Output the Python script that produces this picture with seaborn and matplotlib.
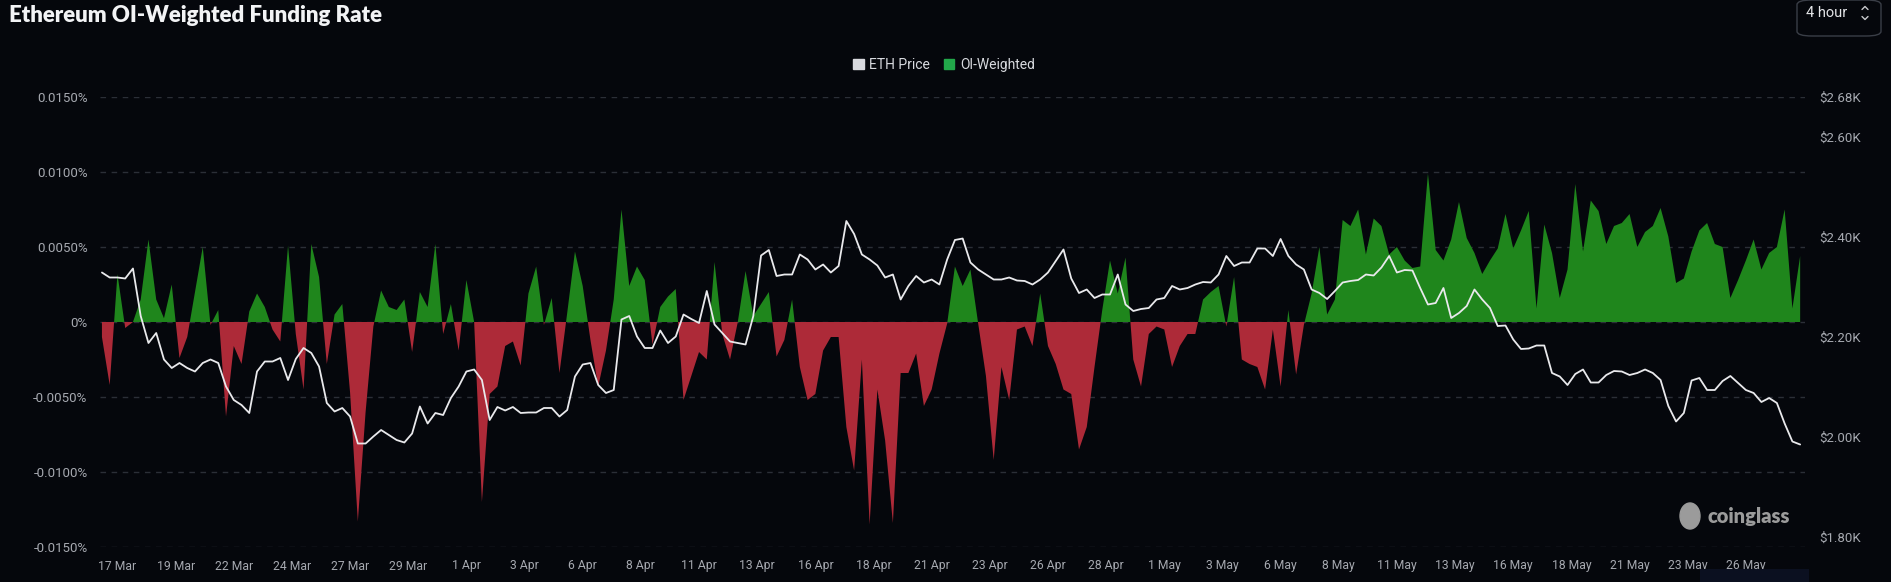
import numpy as np
import pandas as pd
import matplotlib
matplotlib.use("Agg")
import matplotlib.pyplot as plt
from matplotlib.patches import Patch, FancyBboxPatch, Rectangle, Ellipse
from matplotlib.lines import Line2D
import seaborn as sns

# 8-hour samples, first one at 16 Mar 08:00
start = "2025-03-16 08:00"

# OI-weighted funding rate, in units of 0.001 %
funding = [
    -1.0, -4.2, 3.2, -0.4, 0.0, 1.5, 5.5, 1.5, 0.25, 2.5,
    -2.4, -1.0, 2.0, 5.0, -0.2, 0.8, -6.3, -1.6, -2.8, 0.7,
    1.9, 1.0, -0.5, -1.3, 5.1, -0.8, -4.5, 5.2, 3.0, -2.8,
    0.5, 1.2, -4.7, -13.3, -6.0, -0.3, 2.1, 1.0, 0.8, 1.5,
    -2.0, 2.0, 1.0, 5.2, -0.8, 1.2, -1.9, 2.8, 0.0, -12.0,
    -4.8, -4.3, -1.6, -1.3, -2.9, 1.9, 3.7, -0.2, 1.6, -3.4,
    0.6, 4.7, 2.4, -1.2, -4.3, -1.9, 1.5, 7.5, 2.4, 3.7,
    2.8, -1.5, 1.0, 1.7, 2.2, -5.2, -3.6, -2.0, -2.5, 4.0,
    -0.8, -2.5, 0.0, 3.4, 0.4, 1.2, 2.0, -2.3, -1.2, 1.5,
    -3.0, -5.2, -4.8, -1.9, -1.0, -1.0, -7.0, -9.9, -2.5, -13.5,
    -4.5, -7.9, -13.4, -3.4, -3.4, -2.1, -5.6, -4.5, -2.1, -0.1,
    3.7, 2.4, 3.5, -0.1, -3.6, -9.2, -3.0, -5.2, -0.5, -0.3,
    -1.6, 1.9, -1.6, -2.8, -4.5, -4.8, -8.5, -7.0, -3.0, 0.8,
    4.1, 1.9, 4.3, -2.5, -4.3, -0.8, -0.3, -0.5, -3.0, -1.6,
    -0.8, -0.8, 1.5, 2.0, 2.4, -0.3, 3.0, -2.5, -2.8, -3.0,
    -4.5, -0.5, -4.3, 0.8, -3.5, -0.2, 1.9, 5.0, 0.5, 1.5,
    6.8, 6.4, 7.5, 4.5, 6.9, 6.4, 4.5, 5.0, 4.1, 3.6,
    3.7, 9.9, 4.8, 4.1, 5.5, 8.0, 5.6, 4.6, 3.2, 4.1,
    4.9, 7.2, 4.9, 6.1, 7.4, 0.9, 6.5, 4.6, 1.6, 3.5,
    9.2, 4.7, 8.1, 7.4, 5.2, 6.4, 6.6, 7.2, 5.0, 6.0,
    6.4, 7.6, 5.7, 2.6, 2.9, 4.7, 6.1, 6.6, 5.2, 5.0,
    1.6, 2.8, 4.1, 5.5, 3.5, 4.6, 5.0, 7.5, 0.9, 4.4,
]

# ETH price in USD
eth_price = [
    2329, 2319, 2319, 2317, 2337, 2242, 2188, 2208, 2155, 2138,
    2148, 2138, 2131, 2148, 2155, 2148, 2101, 2074, 2064, 2048,
    2131, 2151, 2151, 2158, 2114, 2156, 2178, 2168, 2141, 2068,
    2051, 2058, 2041, 1987, 1987, 2001, 2014, 2004, 1994, 1989,
    2007, 2061, 2027, 2048, 2044, 2078, 2101, 2131, 2135, 2114,
    2034, 2060, 2053, 2060, 2048, 2049, 2049, 2058, 2058, 2041,
    2054, 2121, 2145, 2148, 2104, 2088, 2094, 2235, 2242, 2201,
    2178, 2178, 2213, 2188, 2201, 2245, 2236, 2228, 2292, 2225,
    2208, 2191, 2188, 2185, 2242, 2363, 2374, 2322, 2325, 2325,
    2365, 2355, 2335, 2345, 2329, 2342, 2432, 2406, 2365, 2355,
    2343, 2319, 2325, 2275, 2302, 2322, 2309, 2315, 2305, 2355,
    2394, 2397, 2349, 2335, 2325, 2315, 2315, 2319, 2313, 2312,
    2305, 2315, 2329, 2352, 2375, 2317, 2288, 2295, 2278, 2285,
    2285, 2325, 2265, 2252, 2256, 2258, 2275, 2278, 2302, 2295,
    2298, 2305, 2310, 2309, 2325, 2362, 2342, 2349, 2349, 2377,
    2377, 2362, 2396, 2362, 2345, 2335, 2295, 2288, 2276, 2292,
    2309, 2312, 2314, 2325, 2323, 2339, 2362, 2329, 2334, 2333,
    2298, 2265, 2268, 2298, 2238, 2248, 2262, 2295, 2275, 2258,
    2222, 2223, 2195, 2176, 2177, 2183, 2183, 2128, 2121, 2104,
    2126, 2135, 2109, 2109, 2124, 2132, 2131, 2124, 2128, 2135,
    2128, 2114, 2062, 2031, 2048, 2113, 2118, 2094, 2094, 2112,
    2122, 2108, 2094, 2088, 2070, 2078, 2068, 2027, 1991, 1985,
]

left_ticks = [-0.015, -0.010, -0.005, 0.0, 0.005, 0.010, 0.015]
right_ticks = [1800, 2000, 2200, 2400, 2600, 2680]

BG = "#05070c"
GREEN = "#1f861c"
RED = "#ad2a38"
TXT = "#a6a9b0"
GRID = "#2b2f37"

sns.set_theme(style="dark", rc={"axes.facecolor": BG, "figure.facecolor": BG})
plt.rcParams["font.family"] = ["Roboto", "DejaVu Sans"]

W, H = 1891, 582
fig = plt.figure(figsize=(W / 100, H / 100), dpi=100)
ax = fig.add_axes([100 / W, 1 - 547 / H, 1705 / W, 450 / H])

dates = pd.date_range(start, periods=len(funding), freq="8h")
rate = np.array(funding) / 1000.0

ax.fill_between(dates, 0, rate, where=rate >= 0, interpolate=True, color=GREEN, linewidth=0)
ax.fill_between(dates, 0, rate, where=rate <= 0, interpolate=True, color=RED, linewidth=0)

ax.set_ylim(-0.015, 0.015)
ax.set_yticks(left_ticks)
ax.set_yticklabels(["0%" if t == 0 else f"{t:.4f}%" for t in left_ticks])
ax.grid(axis="y", color=GRID, linestyle=(0, (4, 4)), linewidth=1)
ax.grid(axis="x", visible=False)

t0 = pd.Timestamp(start)
ax.set_xlim(t0 - pd.Timedelta(hours=2), t0 + pd.Timedelta(hours=1757))
xt = pd.date_range("2025-03-17 00:00", periods=29, freq="60h")
ax.set_xticks(xt)
ax.set_xticklabels([f"{d.day} {d.strftime('%b')}" for d in xt])

ax2 = ax.twinx()
sns.lineplot(x=dates, y=eth_price, ax=ax2, color="#e9e9ec", linewidth=1.3)
ax2.set_ylim(1780, 2680)
ax2.set_yticks(right_ticks)
ax2.set_yticklabels([f"${v / 1000:.2f}K" for v in right_ticks])
ax2.grid(False)
ax2.set_ylabel("")

for a in (ax, ax2):
    for s in a.spines.values():
        s.set_visible(False)
    a.tick_params(length=0, colors=TXT, labelsize=9.5)
ax.tick_params(axis="y", pad=9)
ax.tick_params(axis="x", pad=9)
ax2.tick_params(axis="y", pad=10)
for lbl in ax.get_xticklabels():
    lbl.set_fontsize(8.7)

fig.text(9 / W, 1 - 15 / H, "Ethereum OI-Weighted Funding Rate", color="#f2f3f5",
         fontsize=16, fontweight="heavy", family="Lato", va="center", ha="left")

fig.legend(handles=[Patch(color="#d9dadf", label="ETH Price"),
                    Patch(color="#22a84a", label="OI-Weighted")],
           loc="center", bbox_to_anchor=(944 / W, 1 - 65 / H), ncol=2, frameon=False,
           handlelength=0.75, handleheight=0.75, handletextpad=0.4, columnspacing=1.0,
           fontsize=10, labelcolor="#d8dadf")

# interval selector
fig.patches.append(FancyBboxPatch((1797 / W, -8 / H + 1 - 28 / H), 84 / W, 36 / H,
                                  boxstyle="round,pad=0,rounding_size=0.008",
                                  transform=fig.transFigure, facecolor=BG,
                                  edgecolor="#3a3e47", linewidth=1))
fig.text(1806 / W, 1 - 13 / H, "4 hour", color="#e4e5e8", fontsize=10.5, va="center", ha="left")
for sgn, yc in ((1, 8), (-1, 18)):
    fig.lines.append(Line2D([1862 / W, 1865 / W, 1868 / W],
                            [1 - (yc + 1.5 * sgn) / H, 1 - (yc - 1.5 * sgn) / H, 1 - (yc + 1.5 * sgn) / H],
                            transform=fig.transFigure, color="#c8c9cd", linewidth=1))

# watermark
fig.patches.append(Ellipse((1690 / W, 1 - 516 / H), 20 / W, 26 / H, transform=fig.transFigure,
                           color="#9b9b9b"))
fig.text(1708 / W, 1 - 517 / H, "coinglass", color="#9b9b9b", fontsize=14.5,
         fontweight="heavy", family="Lato", va="center", ha="left")
fig.patches.append(Rectangle((1700 / W, 0), 109 / W, 13 / H, transform=fig.transFigure,
                             facecolor="#0b1020", edgecolor="none"))

fig.savefig("out.png", dpi=100, facecolor=BG)
